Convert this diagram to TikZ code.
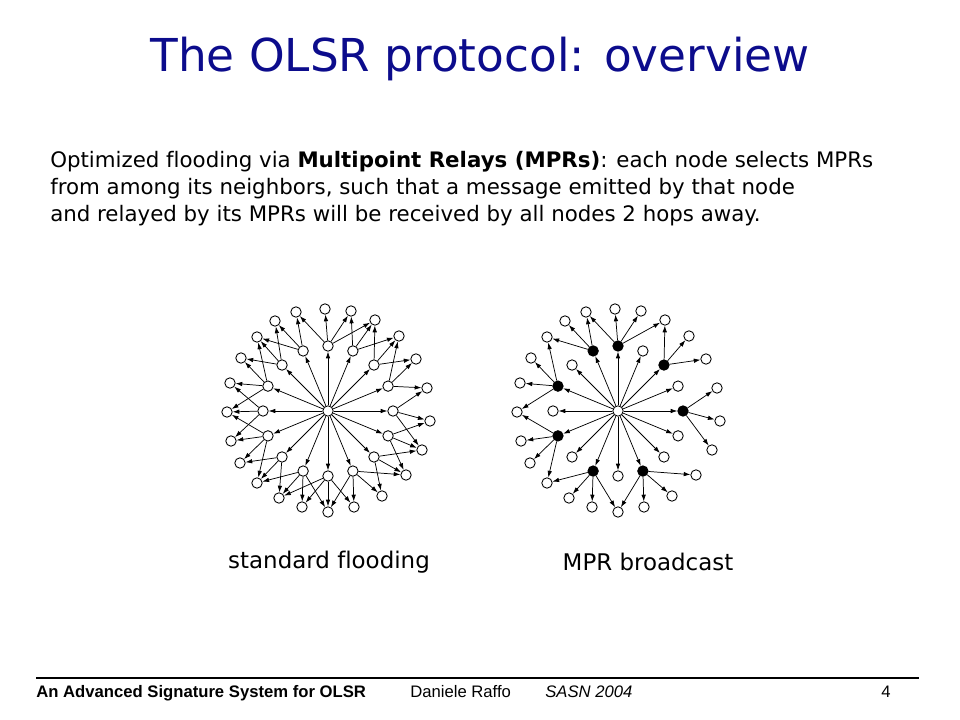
\documentclass[tikz,border=0pt]{standalone}
\usepackage{fontspec}
\setmainfont[Ligatures=NoCommon]{DejaVu Sans}
\newfontfamily\footfont{Liberation Sans}
\usetikzlibrary{arrows.meta}
\definecolor{titleblue}{RGB}{12,12,140}

\begin{document}
\begin{tikzpicture}[x=0.75pt, y=-0.75pt,
	n/.style={circle, draw, fill=white, line width=0.65pt, minimum size=7.8pt, inner sep=0pt},
	mpr/.style={n, fill=black},
	arr/.style={line width=0.55pt, -{Latex[length=5pt, width=3.4pt]}},
	txt/.style={inner sep=0pt, font=\fontsize{16pt}{19pt}\selectfont},
	lbl/.style={inner sep=0pt, font=\fontsize{17.2pt}{20pt}\selectfont},
	foot/.style={inner sep=0pt, anchor=base west, font=\footfont\fontsize{12.5pt}{14pt}\selectfont}]
	\useasboundingbox (0,0) rectangle (960,720);

	% title and text
	\node[anchor=base, inner sep=0pt, text=titleblue, font=\fontsize{34pt}{40pt}\selectfont] (title) at (480,72) {The OLSR protocol: overview};
	\node[txt, anchor=base west] (l1) at (50,168) {Optimized flooding via \textbf{Multipoint Relays (MPRs)}: each node selects MPRs};
	\node[txt, anchor=base west] (l2) at (50,195) {from among its neighbors, such that a message emitted by that node};
	\node[txt, anchor=base west] (l3) at (50,222) {and relayed by its MPRs will be received by all nodes 2 hops away.};

	% standard flooding
	\begin{scope}[shift={(328,411)}]
		\node[n] (sc) at (0,0) {};
		\foreach \k in {0,...,15}
			\node[n] (si\k) at (22.5*\k-90:65) {};
		\foreach \dx/\dy [count=\i from 0] in {-3/-102, 23/-100, 47/-91, 71/-75, 88/-52, 99/-23, 102/10, 94/39, 78/64, 54/85, 26/96, 0/101, -26/96, -49/87, -71/72, -88/52, -97/30, -101/1, -98/-28, -87/-53, -71/-74, -53/-90, -32/-99}
			\node[n] (so\i) at (\dx,\dy) {};
	\end{scope}
	\foreach \k in {0,...,15}
		\draw[arr] (sc) edge (si\k);
	\foreach \a/\b in {0/22, 0/0, 0/1, 0/2, 1/1, 1/2, 1/3, 2/2, 2/3, 2/4, 3/3, 3/4, 3/5, 4/5, 4/6, 4/7, 5/6, 5/7, 5/8, 6/7, 6/8, 6/9, 7/8, 7/9, 7/10, 7/11, 8/10, 8/11, 8/12, 8/13, 9/11, 9/12, 9/13, 9/14, 10/13, 10/14, 10/15, 11/14, 11/15, 11/16, 11/17, 12/16, 12/17, 12/18, 13/17, 13/18, 13/19, 13/20, 14/19, 14/20, 14/21, 15/20, 15/21, 15/22}
		\draw[arr] (si\a) edge (so\b);

	% MPR broadcast
	\begin{scope}[shift={(618,411)}]
		\node[n] (mc) at (0,0) {};
		\foreach \k in {1,3,5,6,8,10,12,14}
			\node[n] (mi\k) at (22.5*\k-90:65) {};
		\foreach \k in {0,2,4,7,9,11,13,15}
			\node[mpr] (mi\k) at (22.5*\k-90:65) {};
		\foreach \dx/\dy [count=\i from 0] in {-3/-102, 23/-100, 47/-91, 71/-75, 88/-52, 99/-23, 102/10, 94/39, 78/64, 54/85, 26/96, 0/101, -26/96, -49/87, -71/72, -88/52, -97/30, -101/1, -98/-28, -87/-53, -71/-74, -53/-90, -32/-99}
			\node[n] (mo\i) at (\dx,\dy) {};
	\end{scope}
	\foreach \k in {0,...,15}
		\draw[arr] (mc) edge (mi\k);
	\foreach \a/\b in {0/22, 0/0, 0/1, 0/2, 2/2, 2/3, 2/4, 4/5, 4/6, 4/7, 7/8, 7/9, 7/10, 7/11, 9/11, 9/12, 9/13, 9/14, 11/14, 11/15, 11/16, 11/17, 13/17, 13/18, 13/19, 13/20, 15/20, 15/21, 15/22}
		\draw[arr] (mi\a) edge (mo\b);

	\node[lbl] (slabel) at (329,562) {standard flooding};
	\node[lbl] (mlabel) at (648,562) {MPR broadcast};

	% footer
	\draw[line width=0.8pt] (36,678) -- (919,678);
	\node[foot] (f1) at (36,697) {\bfseries An Advanced Signature System for OLSR};
	\node[foot] (f2) at (410,697) {Daniele Raffo};
	\node[foot] (f3) at (545,697) {\itshape SASN 2004};
	\node[foot, anchor=base east] (f4) at (891,697) {4};
\end{tikzpicture}
\end{document}
